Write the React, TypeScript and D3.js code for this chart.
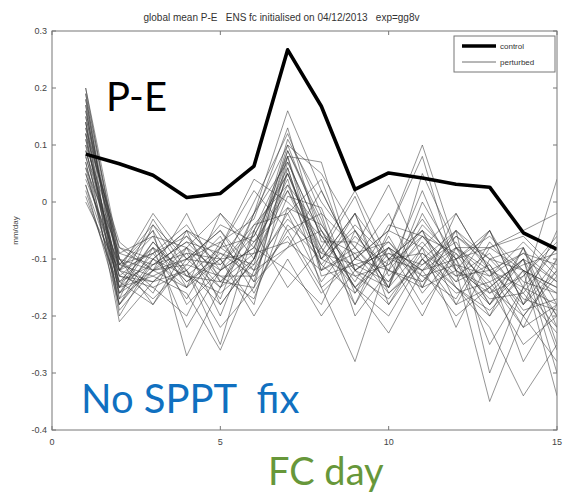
import React from "react";
import * as d3 from "d3";

const days = [1, 2, 3, 4, 5, 6, 7, 8, 9, 10, 11, 12, 13, 14, 15];
const control = [0.084, 0.067, 0.047, 0.008, 0.015, 0.063, 0.267, 0.168, 0.022, 0.051, 0.042, 0.031, 0.026, -0.054, -0.083];
const perturbed: number[][] = [
  [0.20, -0.12, -0.05, -0.15, -0.10, -0.02, 0.16, 0.02, -0.10, -0.05, 0.10, -0.08, -0.15, -0.10, -0.20],
  [0.18, -0.15, -0.10, -0.05, -0.18, -0.10, 0.10, 0.05, -0.05, -0.15, -0.02, -0.12, -0.05, -0.18, -0.12],
  [0.15, -0.10, -0.15, -0.20, -0.08, 0.02, -0.05, -0.15, -0.28, -0.10, -0.05, -0.15, -0.20, -0.08, -0.25],
  [0.12, -0.18, -0.08, -0.12, -0.25, -0.05, 0.05, -0.10, -0.02, -0.18, -0.08, -0.02, -0.12, -0.22, -0.10],
  [0.10, -0.08, -0.12, -0.02, -0.14, -0.15, 0.08, 0.07, -0.12, -0.08, -0.15, -0.05, -0.30, -0.15, -0.18],
  [0.08, -0.12, -0.02, -0.10, -0.05, -0.12, -0.08, -0.05, -0.15, -0.23, -0.12, -0.10, -0.08, -0.05, -0.02],
  [0.05, -0.14, -0.18, -0.08, -0.12, 0.00, 0.12, -0.02, -0.08, 0.03, -0.10, -0.18, -0.15, -0.25, -0.20],
  [0.14, -0.20, -0.10, -0.15, -0.02, -0.08, -0.12, -0.18, -0.05, -0.12, 0.02, -0.12, -0.35, -0.20, -0.28],
  [0.17, -0.11, -0.05, -0.27, -0.15, -0.10, 0.02, -0.08, -0.18, -0.05, -0.08, -0.22, -0.10, -0.12, -0.15],
  [0.02, -0.16, -0.12, -0.08, -0.20, -0.05, -0.15, -0.08, 0.02, -0.10, -0.20, -0.08, -0.18, -0.10, -0.30],
  [0.11, -0.13, -0.08, -0.14, -0.10, -0.18, 0.06, -0.12, -0.08, -0.15, 0.00, -0.10, -0.05, -0.15, -0.08],
  [0.09, -0.10, -0.16, -0.05, -0.08, -0.12, -0.02, 0.04, -0.12, -0.18, -0.10, -0.15, -0.22, -0.34, -0.25],
  [0.19, -0.17, -0.12, -0.10, -0.15, -0.02, 0.10, -0.05, -0.15, -0.08, -0.12, -0.05, -0.10, -0.08, -0.18],
  [0.06, -0.09, -0.06, -0.18, -0.12, -0.08, 0.04, -0.15, -0.10, -0.02, -0.15, -0.12, -0.15, -0.20, -0.12],
  [0.13, -0.15, -0.03, -0.12, -0.22, -0.15, -0.05, -0.02, -0.20, -0.12, -0.05, -0.18, -0.08, -0.12, -0.34],
  [0.16, -0.12, -0.14, -0.08, -0.02, -0.10, 0.08, -0.10, -0.05, -0.15, 0.05, -0.08, -0.12, -0.18, -0.05],
  [0.07, -0.18, -0.10, -0.05, -0.10, -0.20, -0.10, -0.20, -0.12, -0.08, -0.18, -0.10, -0.25, -0.15, -0.22],
  [0.12, -0.07, -0.12, -0.15, -0.08, 0.04, 0.00, -0.06, -0.15, -0.20, -0.10, -0.05, -0.12, -0.28, -0.18],
  [0.03, -0.14, -0.08, -0.22, -0.12, -0.06, 0.06, -0.12, -0.02, -0.10, -0.12, -0.20, -0.15, -0.10, -0.14],
  [0.18, -0.10, -0.18, -0.10, -0.05, -0.14, -0.08, 0.02, -0.10, -0.05, 0.08, -0.12, -0.18, -0.12, -0.20],
  [0.10, -0.21, -0.14, -0.12, -0.18, -0.10, 0.03, -0.05, -0.12, -0.15, -0.08, -0.14, -0.05, -0.18, -0.10],
  [0.15, -0.12, -0.06, -0.08, -0.15, -0.04, -0.02, -0.14, -0.06, -0.12, -0.15, -0.02, -0.12, -0.15, 0.04],
  [0.04, -0.11, -0.13, -0.16, -0.26, -0.12, 0.05, -0.08, -0.15, -0.10, -0.05, -0.10, -0.20, -0.12, -0.15],
  [0.14, -0.16, -0.09, -0.04, -0.12, -0.08, 0.09, -0.03, -0.18, -0.08, -0.12, -0.08, -0.08, -0.06, -0.12],
  [0.08, -0.13, -0.15, -0.12, -0.06, -0.16, -0.04, -0.10, -0.02, -0.16, -0.10, -0.16, -0.14, -0.22, -0.18],
  [0.20, -0.09, -0.11, -0.09, -0.17, -0.02, 0.07, -0.06, -0.14, -0.04, -0.06, -0.12, -0.16, -0.10, -0.26],
  [0.01, -0.15, -0.07, -0.14, -0.09, -0.13, -0.06, -0.16, -0.10, -0.12, -0.14, -0.06, -0.10, -0.16, -0.08],
  [0.17, -0.19, -0.12, -0.06, -0.14, -0.09, 0.11, 0.00, -0.08, -0.14, -0.04, -0.10, -0.06, -0.12, -0.16],
  [0.09, -0.12, -0.17, -0.11, -0.04, -0.07, 0.02, -0.11, -0.16, -0.06, -0.16, -0.09, -0.18, -0.08, -0.22],
  [0.13, -0.08, -0.10, -0.13, -0.16, -0.11, -0.03, -0.09, 0.01, -0.13, -0.07, -0.14, -0.11, -0.20, -0.13],
  [0.06, -0.17, -0.04, -0.10, -0.11, -0.05, 0.08, -0.13, -0.11, -0.09, -0.11, -0.07, -0.16, -0.13, -0.06],
  [0.11, -0.14, -0.11, -0.07, -0.13, -0.17, -0.01, -0.04, -0.13, -0.17, -0.09, -0.13, -0.09, -0.17, -0.19],
  [0.16, -0.11, -0.09, -0.17, -0.07, -0.03, 0.13, -0.07, -0.07, -0.11, -0.03, -0.11, -0.13, -0.09, -0.11],
  [0.05, -0.13, -0.14, -0.09, -0.10, -0.09, -0.07, -0.12, -0.09, -0.07, -0.13, -0.17, -0.07, -0.14, -0.16],
  [0.12, -0.16, -0.07, -0.13, -0.08, -0.06, 0.05, -0.09, -0.11, -0.14, -0.06, -0.09, -0.14, -0.11, -0.09],
  [0.19, -0.10, -0.12, -0.11, -0.13, -0.13, 0.01, -0.01, -0.16, -0.09, -0.13, -0.11, -0.17, -0.16, -0.23],
  [0.00, -0.12, -0.09, -0.06, -0.11, -0.04, 0.03, -0.10, -0.13, -0.11, -0.06, -0.13, -0.12, -0.09, -0.14],
  [0.07, -0.15, -0.13, -0.10, -0.07, -0.14, 0.07, -0.06, -0.09, -0.16, -0.11, -0.06, -0.11, -0.19, -0.17],
  [0.14, -0.11, -0.04, -0.13, -0.14, -0.07, -0.01, -0.11, -0.04, -0.10, -0.09, -0.15, -0.19, -0.13, -0.07],
  [0.03, -0.18, -0.11, -0.07, -0.09, -0.11, 0.09, -0.04, -0.12, -0.07, -0.14, -0.08, -0.13, -0.07, -0.13],
];
const xTicks = [0, 5, 10, 15];
const yTicks = [-0.4, -0.3, -0.2, -0.1, 0, 0.1, 0.2, 0.3];
const yTickLabels = ["-0.4", "-0.3", "-0.2", "-0.1", "0", "0.1", "0.2", "0.3"];
const title = "global mean P-E   ENS fc initialised on 04/12/2013   exp=gg8v";
const yLabel = "mm/day";
const legendLabels = ["control", "perturbed"];

export default function App() {
  const W = 564, H = 495;
  const L = 52, R = 557, T = 31, B = 430;
  const x = d3.scaleLinear().domain([0, 15]).range([L, R]);
  const y = d3.scaleLinear().domain([-0.4, 0.3]).range([B, T]);
  const line = d3.line<number>().x((_, i) => x(days[i])).y((d) => y(d));
  const axisColor = "#777";
  const tickFont = "Liberation Sans, Arial, sans-serif";
  return (
    <svg width={W} height={H} style={{ position: "absolute", left: 0, top: 0, background: "#fff" }}>
      <rect x={0} y={0} width={W} height={H} fill="#fff" />
      <text x={(L + R) / 2 - 23} y={21} textAnchor="middle" fontFamily={tickFont} fontSize={10} fill="#333">
        {title.replace(/ /g, "\u00a0")}
      </text>
      <clipPath id="clip">
        <rect x={L} y={T} width={R - L} height={B - T} />
      </clipPath>
      <g clipPath="url(#clip)">
        {perturbed.map((m, i) => (
          <path key={i} d={line(m) || ""} fill="none" stroke="#333" strokeWidth={0.7} strokeOpacity={0.75} />
        ))}
        <path d={line(control) || ""} fill="none" stroke="#000" strokeWidth={3.6} strokeLinejoin="round" />
      </g>
      <rect x={L} y={T} width={R - L} height={B - T} fill="none" stroke={axisColor} strokeWidth={1} />
      {xTicks.map((t) => (
        <g key={"x" + t}>
          <line x1={x(t)} x2={x(t)} y1={B} y2={B - 4} stroke={axisColor} />
          <line x1={x(t)} x2={x(t)} y1={T} y2={T + 4} stroke={axisColor} />
          <text x={x(t)} y={445} textAnchor="middle" fontFamily={tickFont} fontSize={9} fill="#444">{t}</text>
        </g>
      ))}
      {yTicks.map((t, i) => (
        <g key={"y" + i}>
          <line x1={L} x2={L + 4} y1={y(t)} y2={y(t)} stroke={axisColor} />
          <line x1={R} x2={R - 4} y1={y(t)} y2={y(t)} stroke={axisColor} />
          <text x={L - 5} y={y(t) + 3} textAnchor="end" fontFamily={tickFont} fontSize={9} fill="#444">{yTickLabels[i]}</text>
        </g>
      ))}
      <text transform={`translate(18,${(T + B) / 2}) rotate(-90)`} textAnchor="middle" fontFamily={tickFont} fontSize={8} fill="#444">{yLabel}</text>
      <g>
        <rect x={454} y={36} width={101} height={36} fill="#fff" stroke={axisColor} />
        <line x1={462} x2={496} y1={46} y2={46} stroke="#000" strokeWidth={3.6} />
        <text x={500} y={49} fontFamily={tickFont} fontSize={8} fill="#333">{legendLabels[0]}</text>
        <line x1={462} x2={496} y1={62} y2={62} stroke="#4a4a4a" strokeWidth={0.8} />
        <text x={500} y={65} fontFamily={tickFont} fontSize={8} fill="#333">{legendLabels[1]}</text>
      </g>
      <text x={106} y={111} fontFamily="Lato, sans-serif" fontSize={40} fill="#000">P-E</text>
      <text x={81} y={413} fontFamily="Lato, sans-serif" fontSize={40} fill="#1070c0">No SPPT&#160; fix</text>
      <text x={268} y={485} fontFamily="Lato, sans-serif" fontSize={38} fill="#67973a">FC day</text>
    </svg>
  );
}
